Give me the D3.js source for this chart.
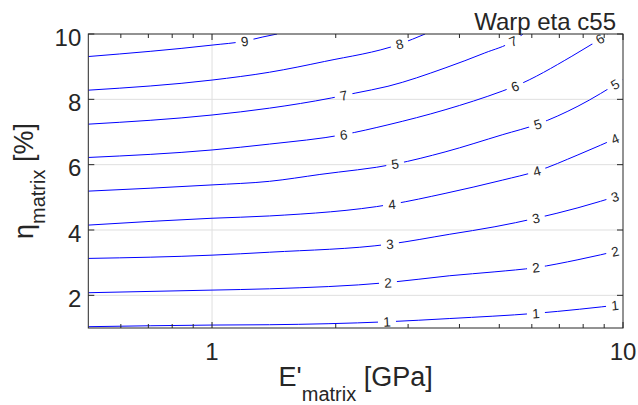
<!DOCTYPE html>
<html><head><meta charset="utf-8">
<script src="https://cdn.jsdelivr.net/npm/d3@7"></script>
<style>
body{margin:0;background:#fff}
svg{display:block}
text{font-family:"Liberation Sans",Arial,Helvetica,sans-serif;fill:#262626}
</style>
</head><body>
<svg id="chart" width="638" height="405"></svg>
<script>
// ---- data ----
const levels = [1, 2, 3, 4, 5, 6, 7, 8, 9];
const contour1 = [[0.5,1.04],[1,1.09],[1.38,1.10],[2.66,1.19],[3.79,1.29],[6.14,1.45],[10,1.72]];
const contour2 = [[0.5,2.08],[1,2.16],[1.38,2.20],[2.68,2.39],[3.79,2.60],[4.88,2.72],[6.14,2.85],[7.77,3.09],[10,3.40]];
const contour3 = [[0.5,3.13],[1,3.23],[1.38,3.32],[2.71,3.57],[3.79,3.87],[4.88,4.10],[6.14,4.36],[7.77,4.68],[10,5.09]];
const contour4 = [[0.5,4.15],[1,4.36],[1.38,4.43],[2.74,4.79],[3.69,5.12],[5.10,5.53],[6.17,5.80],[7.77,6.30],[10,6.90]];
const contour5 = [[0.5,5.19],[1,5.38],[1.38,5.49],[1.83,5.70],[2.79,6.02],[3.69,6.39],[5.10,6.92],[6.20,7.24],[7.77,7.79],[10,8.60]];
const contour6 = [[0.5,6.22],[1,6.45],[1.38,6.63],[2.09,6.92],[2.68,7.22],[3.69,7.68],[5.08,8.25],[5.46,8.40],[7.51,9.32],[9.2,10.0]];
const contour7 = [[0.5,7.24],[1,7.52],[1.38,7.73],[1.95,8.04],[2.23,8.19],[2.68,8.40],[3.69,8.96],[4.61,9.42],[5.40,9.78],[5.71,10.0]];
const contour8 = [[0.5,8.28],[1,8.59],[1.38,8.83],[1.88,9.16],[2.86,9.69],[3.30,10.0]];
const contour9 = [[0.5,9.31],[1,9.66],[1.20,9.78],[1.33,9.91],[1.44,10.0]];
const contours = [contour1, contour2, contour3, contour4, contour5, contour6, contour7, contour8, contour9];
// E position of each in-line label, per level
const labelsE1 = [2.665, 6.14, 9.56];
const labelsE2 = [2.68, 6.14, 9.56];
const labelsE3 = [2.71, 6.14, 9.56];
const labelsE4 = [2.74, 6.17, 9.56];
const labelsE5 = [2.79, 6.20, 9.56];
const labelsE6 = [2.09, 5.46, 8.79];
const labelsE7 = [2.09, 5.40];
const labelsE8 = [2.86];
const labelsE9 = [1.20];
const labelsE = [labelsE1, labelsE2, labelsE3, labelsE4, labelsE5, labelsE6, labelsE7, labelsE8, labelsE9];

const xDomain = [0.5, 10];
const yDomain = [1, 10];
const xMajorTicks = [1, 10];
const xMajorLabels = ["1", "10"];
const xMinorTicks = [0.6, 0.7, 0.8, 0.9, 2, 3, 4, 5, 6, 7, 8, 9];
const yTicks = [2, 4, 6, 8, 10];
const yTickLabels = ["2", "4", "6", "8", "10"];
const titleText = "Warp eta c55";

// ---- layout ----
const L = 88.3, R = 623, T = 34, B = 328;
const svg = d3.select("#chart");
const x = d3.scaleLog().domain(xDomain).range([L, R]);
const y = d3.scaleLinear().domain(yDomain).range([B, T]);
const axisCol = "#262626";

// grid
const grid = svg.append("g").attr("stroke", "#dfdfdf").attr("stroke-width", 1);
grid.selectAll("line.gx").data(xMajorTicks.filter(v => v > xDomain[0] && v < xDomain[1]))
  .join("line").attr("x1", d => x(d)).attr("x2", d => x(d)).attr("y1", T).attr("y2", B);
grid.selectAll("line.gy").data(yTicks.filter(v => v > yDomain[0] && v < yDomain[1]))
  .join("line").attr("class","gy").attr("y1", d => y(d)).attr("y2", d => y(d)).attr("x1", L).attr("x2", R);

// clip + gaps mask
const defs = svg.append("defs");
defs.append("clipPath").attr("id", "clip").append("rect")
  .attr("x", L).attr("y", T).attr("width", R - L).attr("height", B - T);
const mask = defs.append("mask").attr("id", "gaps").attr("maskUnits", "userSpaceOnUse")
  .attr("x", 0).attr("y", 0).attr("width", 638).attr("height", 405);
mask.append("rect").attr("x", 0).attr("y", 0).attr("width", 638).attr("height", 405).attr("fill", "#fff");

function labelInfo(pts, e) {
  const px = pts.map(p => [x(p[0]), y(p[1])]);
  const X = x(e);
  let i = 0;
  while (i < px.length - 2 && px[i + 1][0] < X) i++;
  const a = px[i], b = px[i + 1];
  const t = (X - a[0]) / (b[0] - a[0]);
  const Y = a[1] + t * (b[1] - a[1]);
  const ang = Math.atan2(b[1] - a[1], b[0] - a[0]) * 180 / Math.PI;
  return {X, Y, ang};
}

const labels = [];
levels.forEach((lv, k) => {
  labelsE[k].forEach(e => {
    const info = labelInfo(contours[k], e);
    labels.push({lv, ...info});
  });
});

mask.selectAll("rect.gap").data(labels).join("rect").attr("class", "gap")
  .attr("x", -9).attr("y", -6).attr("width", 18).attr("height", 12).attr("fill", "#000")
  .attr("transform", d => `translate(${d.X},${d.Y}) rotate(${d.ang})`);

const line = d3.line().x(d => x(d[0])).y(d => y(d[1])).curve(d3.curveMonotoneX);
svg.append("g").attr("clip-path", "url(#clip)").append("g").attr("mask", "url(#gaps)")
  .selectAll("path").data(contours).join("path")
  .attr("d", line).attr("fill", "none").attr("stroke", "#0000ff").attr("stroke-width", 1);

svg.append("g").selectAll("text").data(labels).join("text")
  .attr("transform", d => `translate(${d.X},${d.Y}) rotate(${d.ang})`)
  .attr("text-anchor", "middle").attr("dy", "0.36em")
  .style("font-size", "13.5px").text(d => d.lv);

// axes box
const ax = svg.append("g").attr("stroke", axisCol).attr("stroke-width", 1).attr("fill", "none");
ax.append("rect").attr("x", L).attr("y", T).attr("width", R - L).attr("height", B - T);
xMajorTicks.forEach(v => {
  ax.append("line").attr("x1", x(v)).attr("x2", x(v)).attr("y1", B).attr("y2", B - 6);
  ax.append("line").attr("x1", x(v)).attr("x2", x(v)).attr("y1", T).attr("y2", T + 6);
});
xMinorTicks.forEach(v => {
  ax.append("line").attr("x1", x(v)).attr("x2", x(v)).attr("y1", B).attr("y2", B - 4);
  ax.append("line").attr("x1", x(v)).attr("x2", x(v)).attr("y1", T).attr("y2", T + 4);
});
yTicks.forEach(v => {
  ax.append("line").attr("y1", y(v)).attr("y2", y(v)).attr("x1", L).attr("x2", L + 6);
  ax.append("line").attr("y1", y(v)).attr("y2", y(v)).attr("x1", R).attr("x2", R - 6);
});

// tick labels
svg.append("g").selectAll("text").data(xMajorTicks).join("text")
  .attr("x", d => x(d)).attr("y", 360).attr("text-anchor", "middle")
  .style("font-size", "24px").text((d, i) => xMajorLabels[i]);
svg.append("g").selectAll("text").data(yTicks).join("text")
  .attr("x", L - 7).attr("y", d => y(d)).attr("dy", "0.48em").attr("text-anchor", "end")
  .style("font-size", "24px").text((d, i) => yTickLabels[i]);

// title
svg.append("text").attr("x", 616).attr("y", 30).attr("text-anchor", "end")
  .style("font-size", "24px").text(titleText);

// x label
const xl = svg.append("text").attr("x", (L + R) / 2).attr("y", 386).attr("text-anchor", "middle")
  .style("font-size", "27px");
xl.append("tspan").text("E'");
xl.append("tspan").attr("dy", 15).style("font-size", "20px").text("matrix");
xl.append("tspan").attr("dy", -15).text(" [GPa]");

// y label
const yl = svg.append("text").attr("transform", `translate(33,${(T + B) / 2}) rotate(-90)`)
  .attr("text-anchor", "middle").style("font-size", "27px");
yl.append("tspan").text("η");
yl.append("tspan").attr("dy", 12).style("font-size", "20px").text("matrix");
yl.append("tspan").attr("dy", -12).text(" [%]");
</script>
</body></html>
